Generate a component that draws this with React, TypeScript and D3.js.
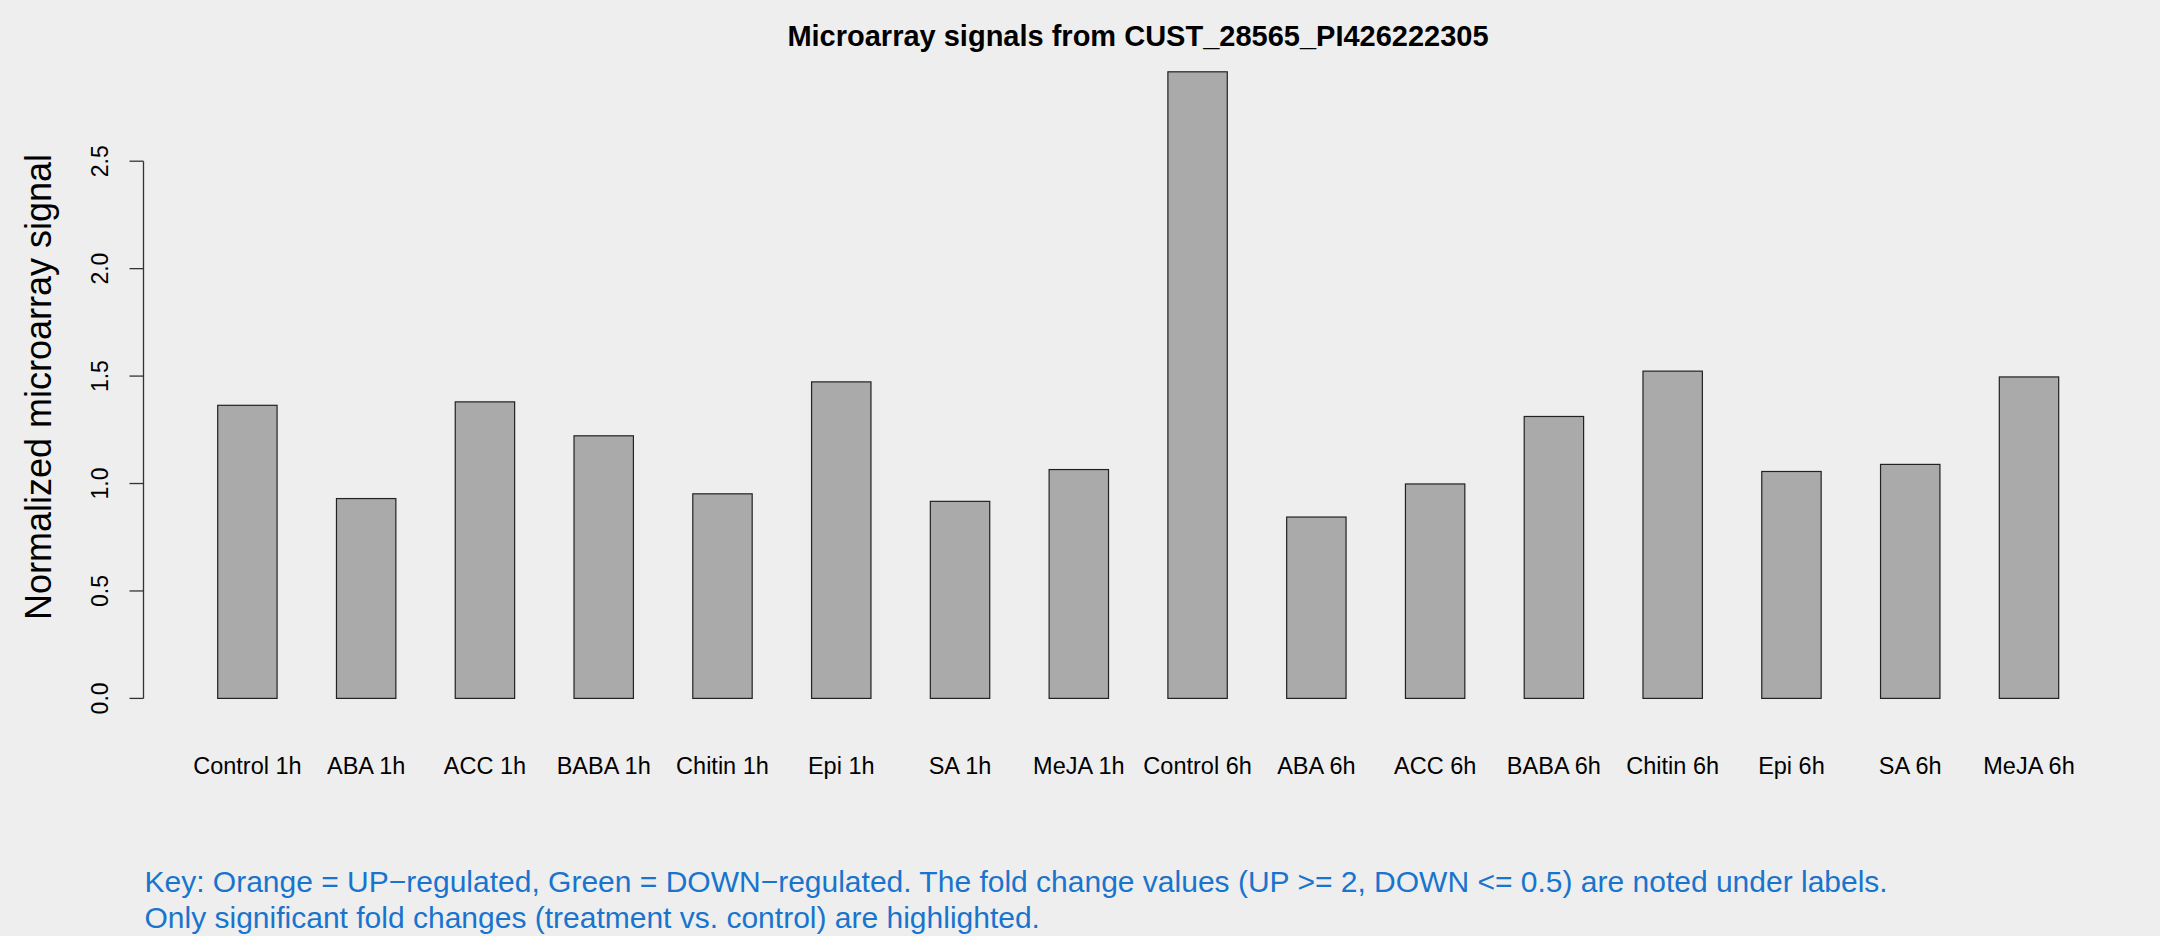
import React from "react";
import * as d3 from "d3";

const categories = [
  "Control 1h", "ABA 1h", "ACC 1h", "BABA 1h", "Chitin 1h", "Epi 1h", "SA 1h", "MeJA 1h",
  "Control 6h", "ABA 6h", "ACC 6h", "BABA 6h", "Chitin 6h", "Epi 6h", "SA 6h", "MeJA 6h",
];
const values = [
  1.364, 0.930, 1.380, 1.222, 0.952, 1.473, 0.917, 1.065,
  2.916, 0.844, 0.998, 1.312, 1.523, 1.056, 1.089, 1.496,
];
const yTicks = [0, 0.5, 1.0, 1.5, 2.0, 2.5];
const title = "Microarray signals from CUST_28565_PI426222305";
const yLabel = "Normalized microarray signal";
const keyLines = [
  "Key: Orange = UP\u2212regulated, Green = DOWN\u2212regulated. The fold change values (UP >= 2, DOWN <= 0.5) are noted under labels.",
  "Only significant fold changes (treatment vs. control) are highlighted.",
];

const W = 2160;
const H = 936;
const FONT = "'Liberation Sans', Arial, Helvetica, sans-serif";

export default function App() {
  const x = d3.scaleBand<string>().domain(categories).range([217.7, 2058.7]).paddingInner(0.5).paddingOuter(0);
  const y = d3.scaleLinear().domain([0, 2.5]).range([698.4, 161.2]);
  const axisX = 143.5;

  return (
    <svg width={W} height={H} style={{ position: "absolute", left: 0, top: 0, background: "#EEEEEE" }} fontFamily={FONT}>
      <rect x={0} y={0} width={W} height={H} fill="#EEEEEE" />
      <text x={1138} y={46} textAnchor="middle" fontWeight="bold" fontSize={29} fill="#000">{title}</text>

      {categories.map((c, i) => (
        <rect key={c} x={x(c)!} y={y(values[i])} width={x.bandwidth()} height={y(0) - y(values[i])}
          fill="#AAAAAA" stroke="#222" strokeWidth={1.2} />
      ))}

      <line x1={axisX} x2={axisX} y1={y(0)} y2={y(2.5)} stroke="#333" strokeWidth={1.3} />
      {yTicks.map((t) => (
        <g key={t}>
          <line x1={axisX - 14} x2={axisX} y1={y(t)} y2={y(t)} stroke="#333" strokeWidth={1.3} />
          <text transform={`translate(108,${y(t)}) rotate(-90)`} textAnchor="middle" fontSize={23} fill="#000">
            {d3.format(".1f")(t)}
          </text>
        </g>
      ))}
      <text transform={`translate(51,387) rotate(-90)`} textAnchor="middle" fontSize={36} fill="#000">
        {yLabel}
      </text>

      {categories.map((c) => (
        <text key={c} x={x(c)! + x.bandwidth() / 2} y={774} textAnchor="middle" fontSize={23.5} fill="#000">{c}</text>
      ))}

      {keyLines.map((l, i) => (
        <text key={i} x={144.5} y={892 + i * 35.5} fontSize={30} fill="#1874CD">{l}</text>
      ))}
    </svg>
  );
}
